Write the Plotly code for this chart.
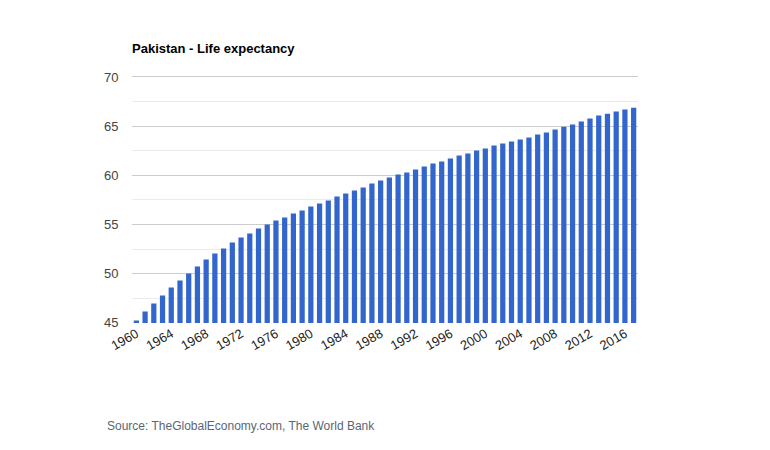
import plotly.graph_objects as go

years = list(range(1960, 2018))
life_expectancy = [
    45.24, 46.15, 46.96, 47.78, 48.59, 49.30, 50.01, 50.72, 51.44, 52.05,
    52.55, 53.16, 53.67, 54.08, 54.59, 54.99, 55.40, 55.70, 56.11, 56.42,
    56.82, 57.13, 57.43, 57.84, 58.14, 58.45, 58.75, 59.16, 59.46, 59.77,
    60.07, 60.28, 60.58, 60.89, 61.19, 61.40, 61.70, 62.01, 62.21, 62.51,
    62.72, 63.02, 63.23, 63.43, 63.63, 63.84, 64.14, 64.34, 64.65, 64.95,
    65.16, 65.46, 65.77, 66.07, 66.27, 66.48, 66.68, 66.88,
]
x_tick_vals = list(range(1960, 2018, 4))
y_tick_vals = [45, 50, 55, 60, 65, 70]

font_family = "Liberation Sans, Arial, sans-serif"

fig = go.Figure(
    go.Bar(
        x=years,
        y=life_expectancy,
        marker=dict(color="#3366cc", line=dict(width=0)),
        hovertemplate="%{x}: %{y}<extra></extra>",
    )
)

# page body has an 8px margin, so offsets are compensated
fig.update_layout(
    width=770,
    height=450,
    margin=dict(l=124, r=140, t=67, b=135),
    paper_bgcolor="white",
    plot_bgcolor="white",
    bargap=0.4,
    showlegend=False,
    font=dict(family=font_family, color="#444444"),
    title=dict(
        text="<b>Pakistan - Life expectancy</b>",
        x=124 / 770,
        xanchor="left",
        y=1 - 40 / 450,
        yanchor="middle",
        font=dict(size=13, color="#000000", family=font_family),
    ),
    annotations=[
        dict(
            text="Source: TheGlobalEconomy.com, The World Bank",
            xref="paper",
            yref="paper",
            x=(105 - 132) / 506,
            y=-(426 - 323) / 248,
            xanchor="left",
            yanchor="middle",
            showarrow=False,
            font=dict(size=12, color="#5b6675", family=font_family),
        )
    ],
)

fig.update_xaxes(
    range=[1959.5, 2017.5],
    tickmode="array",
    tickvals=x_tick_vals,
    ticktext=[str(v) for v in x_tick_vals],
    tickangle=-30,
    tickfont=dict(size=13, color="#222222"),
    showgrid=False,
    zeroline=False,
    showline=False,
    ticks="",
)

fig.update_yaxes(
    range=[44.98, 70.2],
    tickmode="array",
    tickvals=y_tick_vals,
    tickfont=dict(size=13, color="#444444"),
    showgrid=True,
    gridcolor="#cccccc",
    gridwidth=1,
    zeroline=False,
    showline=False,
    ticks="outside",
    ticklen=10,
    tickcolor="rgba(0,0,0,0)",
    minor=dict(dtick=2.5, tick0=45, showgrid=True, gridcolor="#ebebeb", gridwidth=1),
)

fig.write_html("out.html")
